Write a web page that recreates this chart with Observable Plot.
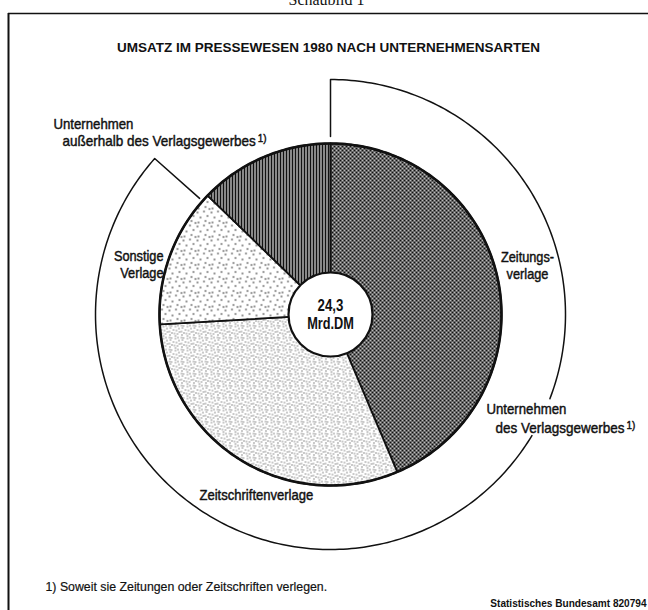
<!DOCTYPE html>
<html><head><meta charset="utf-8">
<script src="https://cdn.jsdelivr.net/npm/d3@7"></script>
<script src="https://cdn.jsdelivr.net/npm/@observablehq/plot@0.6"></script>
<style>
html,body{margin:0;padding:0;background:#fff;}
</style></head><body><div id="chart"></div>
<script>
// ---- data ----
const categories = ["Zeitungsverlage", "Zeitschriftenverlage", "Sonstige Verlage", "Unternehmen außerhalb des Verlagsgewerbes"];
const values = [10.6, 7.4, 3.2, 3.1]; // Mrd. DM, 1980
const totalLabel = ["24,3", "Mrd.DM"];
const heading = "Schaubild 1";
const title = "UMSATZ IM PRESSEWESEN 1980 NACH UNTERNEHMENSARTEN";
const footnote = "1) Soweit sie Zeitungen oder Zeitschriften verlegen.";
const source = "Statistisches Bundesamt 820794";
const sliceLabels = ["Zeitungs-\nverlage", "Zeitschriftenverlage", "Sonstige\nVerlage"];
const outsideLabel = ["Unternehmen", "außerhalb des Verlagsgewerbes"];
const bracketLabel = ["Unternehmen", "des Verlagsgewerbes"];
const footMark = "1)";

// ---- layout / style ----
const W = 648, H = 610, CX = 330, CY = 314, R = 171, R0 = 42, RB = 235;
const FONT = "'Liberation Sans','Arimo',sans-serif";
const fills = ["url(#pZeitung)", "url(#pZeitschrift)", "url(#pSonstige)", "url(#pStripes)"];

const sum = d3.sum(values);
let acc = 0;
const slices = values.map((v, i) => { const a0 = acc / sum * 360; acc += v; return {i, a0, a1: acc / sum * 360}; });
const pt = (r, deg) => { const t = deg * Math.PI / 180; return {x: CX + r * Math.sin(t), y: CY - r * Math.cos(t)}; };
const arc = (r, a0, a1) => { const n = Math.max(2, Math.ceil(Math.abs(a1 - a0))); return d3.range(n + 1).map(j => pt(r, a0 + (a1 - a0) * j / n)); };

const slicePolys = slices.map(s => [{x: CX, y: CY}, ...arc(R, s.a0, s.a1)]);
const outerRing = arc(R, 0, 360);
const bracketEnd = slices[2].a1 - 2.5;
const bracketA = [pt(178, 0), ...arc(RB, 0, 111)];
const bracketB = [...arc(RB, 121, bracketEnd), pt(175, bracketEnd)];

// horizontal condensing per text (stand-in for a condensed face)
const squeeze = new Map();
const texts = [
  {t: outsideLabel[0], x: 53, y: 123, a: "start", s: 15, k: 0.88},
  {t: outsideLabel[1], x: 62, y: 140, a: "start", s: 15, k: 0.9, sup: true},
  {t: sliceLabels[2], x: 163, y: 263.5, a: "end", s: 14.5, k: 0.88},
  {t: sliceLabels[0], x: 527, y: 264.5, a: "middle", s: 14.5, k: 0.88},
  {t: bracketLabel[0], x: 486, y: 408, a: "start", s: 15, k: 0.88},
  {t: bracketLabel[1], x: 495, y: 427, a: "start", s: 15, k: 0.9, sup: true},
  {t: sliceLabels[1], x: 199, y: 494, a: "start", s: 14.5, k: 0.9},
  {t: footnote, x: 45, y: 586, a: "start", s: 13, k: 0.95, thin: true}
];
texts.forEach(d => squeeze.set(d.t.replace("\n", ""), d.k));
squeeze.set(totalLabel[0], 0.78);
squeeze.set(totalLabel[1], 0.75);
squeeze.set(source, 0.96);

const textMarks = texts.map(d => Plot.text([d], {
  x: "x", y: "y", text: "t", textAnchor: d.a, fontSize: d.s, fontFamily: FONT, fill: "#111",
  stroke: "#111", strokeWidth: d.thin ? 0.2 : 0.45, lineHeight: 1.17
}));

const plot = Plot.plot({
  width: W, height: H, margin: 0,
  x: {domain: [0, W], range: [0, W], axis: null},
  y: {domain: [0, H], range: [0, H], axis: null},
  style: {background: "#fff", overflow: "hidden"},
  marks: [
    Plot.ruleY([13], {x1: 8, x2: W, stroke: "#111", strokeWidth: 1.5}),
    Plot.ruleX([8], {y1: 13, y2: H, stroke: "#111", strokeWidth: 2}),
    Plot.text([heading], {x: 326, y: -1, text: d => d, fontFamily: "'Liberation Serif','DejaVu Serif',serif", fontSize: 16, fill: "#111"}),
    Plot.text([title], {x: 328, y: 47, text: d => d, fontFamily: FONT, fontWeight: "bold", fontSize: 13.5, fill: "#111"}),
    ...slicePolys.map((p, i) => Plot.line(p, {x: "x", y: "y", fill: fills[i], stroke: "#111", strokeWidth: 1.8, curve: "linear-closed"})),
    Plot.line(outerRing, {x: "x", y: "y", stroke: "#111", strokeWidth: 2.6, curve: "linear-closed"}),
    Plot.dot([{x: CX, y: CY}], {x: "x", y: "y", r: R0, fill: "#fff", stroke: "#111", strokeWidth: 2.2}),
    Plot.text(totalLabel, {x: CX, y: (d, i) => CY - 9 + i * 18, text: d => d, fontFamily: FONT, fontWeight: "bold", fontSize: 17, fill: "#111"}),
    Plot.line(bracketA, {x: "x", y: "y", stroke: "#111", strokeWidth: 1.5}),
    Plot.line(bracketB, {x: "x", y: "y", stroke: "#111", strokeWidth: 1.5}),
    ...textMarks,
    Plot.text([source], {x: 646, y: 603, text: d => d, textAnchor: "end", fontFamily: FONT, fontWeight: "bold", fontSize: 10.5, fill: "#111"})
  ]
});

const svg = d3.select(plot);

// superscript footnote marks
svg.selectAll("text").filter(function () { return this.textContent === outsideLabel[1] || this.textContent === bracketLabel[1]; })
  .each(function () {
    d3.select(this).append("tspan").attr("font-size", 11).attr("dy", "-0.35em").text("\u2009" + footMark);
  });

// condense text horizontally
svg.selectAll("text").each(function () {
  const key = this.textContent.replace("\u2009" + footMark, "");
  if (squeeze.has(key)) {
    const tr = this.getAttribute("transform") || "";
    this.setAttribute("transform", tr + ` scale(${squeeze.get(key)},1)`);
  }
});

// patterns
const defs = svg.insert("defs", ":first-child");
defs.html(`
<pattern id="pZeitung" width="4" height="4" patternUnits="userSpaceOnUse">
  <rect width="4" height="4" fill="#fff"/>
  <g fill="#111"><circle cx="0" cy="0" r="1.35"/><circle cx="4" cy="0" r="1.35"/><circle cx="0" cy="4" r="1.35"/><circle cx="4" cy="4" r="1.35"/><circle cx="2" cy="2" r="1.35"/></g>
</pattern>
<pattern id="pStripes" width="3" height="40" patternUnits="userSpaceOnUse">
  <rect width="3" height="40" fill="#fff"/><rect x="0" y="0" width="2" height="40" fill="#111"/>
</pattern>
<pattern id="pSonstige" width="14" height="14" patternUnits="userSpaceOnUse">
  <rect width="14" height="14" fill="#fff"/>
  <g fill="#111"><circle cx="1" cy="2" r="0.8"/><circle cx="7.5" cy="1" r="0.8"/><circle cx="11" cy="5.5" r="0.8"/><circle cx="4" cy="7" r="0.8"/><circle cx="9" cy="10.5" r="0.8"/><circle cx="2" cy="12" r="0.8"/><circle cx="13" cy="12.5" r="0.8"/></g>
</pattern>
<pattern id="pZeitschrift" width="12" height="12" patternUnits="userSpaceOnUse">
  <rect width="12" height="12" fill="#fff"/>
  <g fill="#111"><circle cx="1" cy="1" r="0.6"/><circle cx="3" cy="1.5" r="0.6"/><circle cx="2" cy="3.5" r="0.6"/><circle cx="7" cy="2" r="0.6"/><circle cx="9.5" cy="1" r="0.6"/><circle cx="10.5" cy="4" r="0.6"/><circle cx="5" cy="5.5" r="0.6"/><circle cx="8" cy="6" r="0.6"/><circle cx="1" cy="7" r="0.6"/><circle cx="3.5" cy="8.5" r="0.6"/><circle cx="6" cy="9" r="0.6"/><circle cx="9" cy="9.5" r="0.6"/><circle cx="11" cy="7.5" r="0.6"/><circle cx="1.5" cy="10.5" r="0.6"/><circle cx="7" cy="11.5" r="0.6"/></g>
</pattern>`);

document.getElementById("chart").appendChild(plot);
</script>
</body></html>
